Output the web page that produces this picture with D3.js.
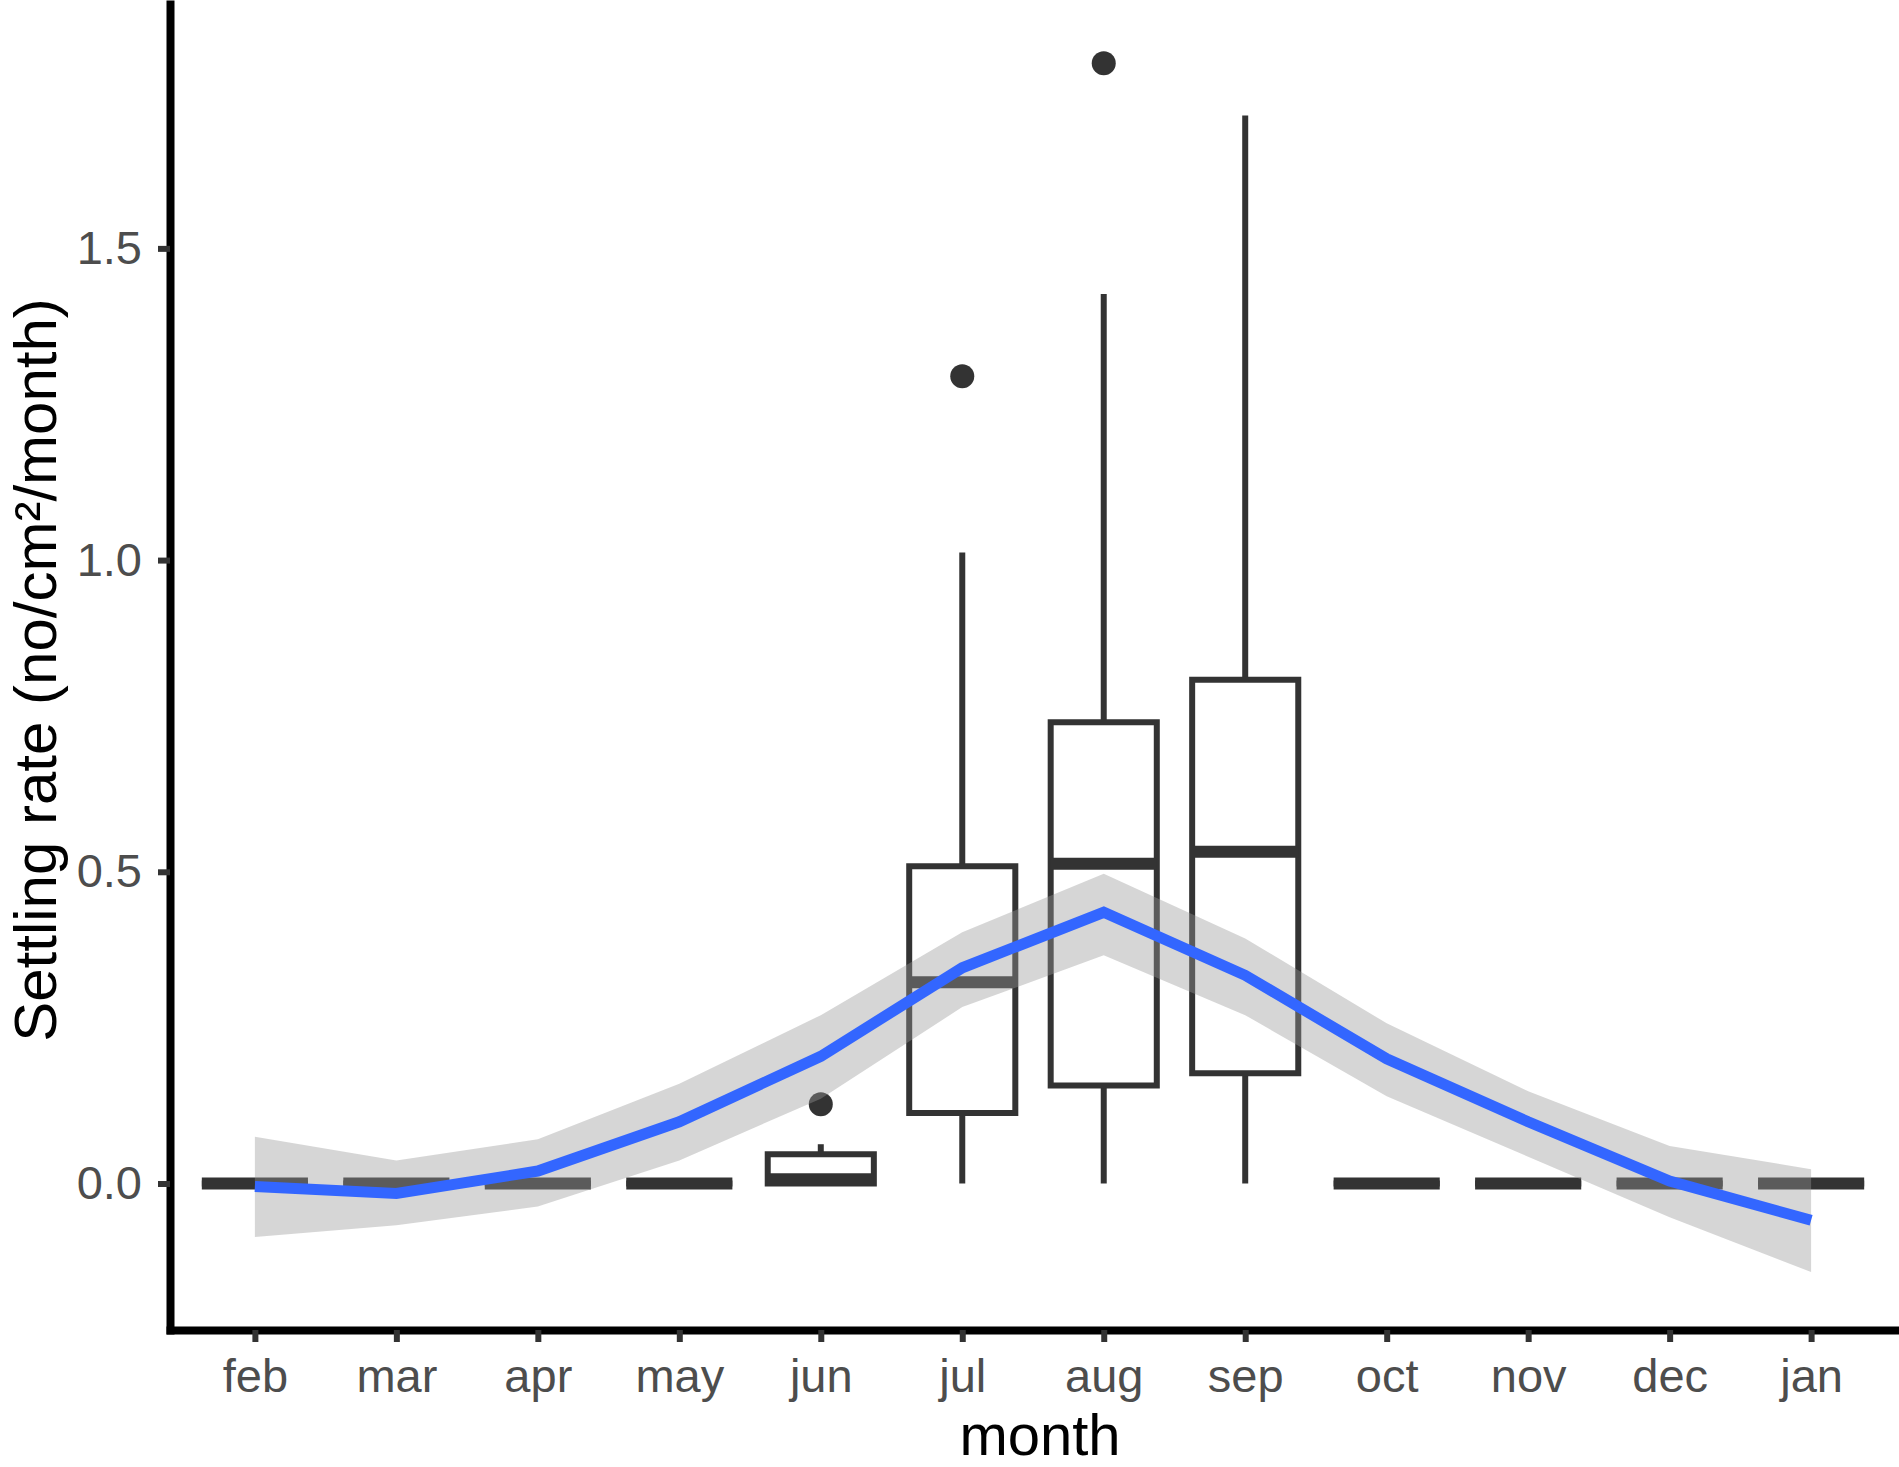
<!DOCTYPE html>
<html>
<head>
<meta charset="utf-8">
<script src="https://cdn.jsdelivr.net/npm/d3@7"></script>
<style>
  body { margin: 0; background: #fff; }
  text { font-family: "Liberation Sans", Arial, sans-serif; }
</style>
</head>
<body>
<div id="chart"></div>
<script>
// months on the x axis
const months = ["feb", "mar", "apr", "may", "jun", "jul", "aug", "sep", "oct", "nov", "dec", "jan"];

// boxplot stats per month
const boxLower  = [0, 0, 0, 0, 0,     0,     0,     0,     0, 0, 0, 0];
const boxQ1     = [0, 0, 0, 0, 0,     0.113, 0.157, 0.177, 0, 0, 0, 0];
const boxMedian = [0, 0, 0, 0, 0.007, 0.323, 0.513, 0.532, 0, 0, 0, 0];
const boxQ3     = [0, 0, 0, 0, 0.047, 0.509, 0.740, 0.808, 0, 0, 0, 0];
const boxUpper  = [0, 0, 0, 0, 0.063, 1.012, 1.427, 1.713, 0, 0, 0, 0];

// outliers
const outlierMonths = ["jun", "jul", "aug"];
const outlierValues = [0.127, 1.295, 1.797];

// smooth fit and its confidence band
const fitValues = [-0.005, -0.016, 0.020, 0.099, 0.204, 0.346, 0.435, 0.334, 0.200, 0.099, 0.004, -0.059];
const fitLow    = [-0.086, -0.067, -0.037, 0.037, 0.136, 0.283, 0.366, 0.270, 0.140, 0.043, -0.054, -0.142];
const fitHigh   = [0.075, 0.037, 0.071, 0.160, 0.270, 0.403, 0.497, 0.393, 0.257, 0.148, 0.060, 0.023];

const yTicks = [0, 0.5, 1.0, 1.5];

const W = 1899, H = 1467;
const panelL = 170, panelR = 1896, panelT = 4, panelB = 1330;
const ink = "#333333";

const svg = d3.select("#chart").append("svg")
    .attr("width", W).attr("height", H);

const x = d3.scalePoint().domain(months).range([panelL, panelR]).padding(0.6);
const y = d3.scaleLinear().domain([-0.235, 1.892]).range([panelB, panelT]);
const boxW = x.step() * 0.75;

// boxes
const boxes = months.map((m, i) => ({
    m, lo: boxLower[i], q1: boxQ1[i], med: boxMedian[i], q3: boxQ3[i], hi: boxUpper[i]
}));

const g = svg.append("g");
boxes.forEach(b => {
    const cx = x(b.m);
    if (b.hi > b.q3) {
        g.append("line").attr("x1", cx).attr("x2", cx)
            .attr("y1", y(b.q3)).attr("y2", y(b.hi))
            .attr("stroke", ink).attr("stroke-width", 6);
    }
    if (b.q1 > b.lo) {
        g.append("line").attr("x1", cx).attr("x2", cx)
            .attr("y1", y(b.q1)).attr("y2", y(b.lo))
            .attr("stroke", ink).attr("stroke-width", 6);
    }
    const x0 = cx - boxW / 2, x1 = cx + boxW / 2;
    g.append("path")
        .attr("d", `M${x0},${y(b.q3)}H${x1}V${y(b.q1)}H${x0}Z`)
        .attr("fill", "#fff").attr("stroke", ink).attr("stroke-width", 6)
        .attr("stroke-linejoin", "miter");
    g.append("line").attr("x1", x0).attr("x2", x1)
        .attr("y1", y(b.med)).attr("y2", y(b.med))
        .attr("stroke", ink).attr("stroke-width", 12);
});

g.selectAll("circle.out")
    .data(outlierMonths.map((m, i) => ({ m, v: outlierValues[i] })))
    .join("circle")
    .attr("cx", d => x(d.m)).attr("cy", d => y(d.v))
    .attr("r", 12).attr("fill", ink);

// ribbon + smooth line
const smooth = months.map((m, i) => ({ m, fit: fitValues[i], lo: fitLow[i], hi: fitHigh[i] }));

svg.append("path").datum(smooth)
    .attr("d", d3.area().x(d => x(d.m)).y0(d => y(d.lo)).y1(d => y(d.hi)))
    .attr("fill", "#999999").attr("fill-opacity", 0.4);

svg.append("path").datum(smooth)
    .attr("d", d3.line().x(d => x(d.m)).y(d => y(d.fit)))
    .attr("fill", "none").attr("stroke", "#3366FF").attr("stroke-width", 11);

// axes
const xAxis = svg.append("g").attr("transform", `translate(0,${panelB})`)
    .call(d3.axisBottom(x).tickSize(12).tickSizeOuter(0).tickPadding(17));
const yAxis = svg.append("g").attr("transform", `translate(${panelL},0)`)
    .call(d3.axisLeft(y).tickValues(yTicks).tickFormat(d3.format(".1f"))
        .tickSize(12).tickSizeOuter(0).tickPadding(16));

[xAxis, yAxis].forEach(a => {
    a.select(".domain").attr("stroke", "#000").attr("stroke-width", 8)
        .attr("stroke-linecap", "square");
    a.selectAll(".tick line").attr("stroke", ink).attr("stroke-width", 6);
    a.selectAll(".tick text").attr("fill", "#4D4D4D")
        .style("font-size", "47px").style("font-family", "'Liberation Sans', Arial, sans-serif");
});

// titles
svg.append("text")
    .attr("x", 1040).attr("y", 1455)
    .attr("text-anchor", "middle")
    .style("font-size", "58px").attr("fill", "#000")
    .text("month");

svg.append("text")
    .attr("transform", `translate(56,670) rotate(-90)`)
    .attr("text-anchor", "middle")
    .style("font-size", "60px").attr("fill", "#000")
    .text("Settling rate (no/cm²/month)");
</script>
</body>
</html>
